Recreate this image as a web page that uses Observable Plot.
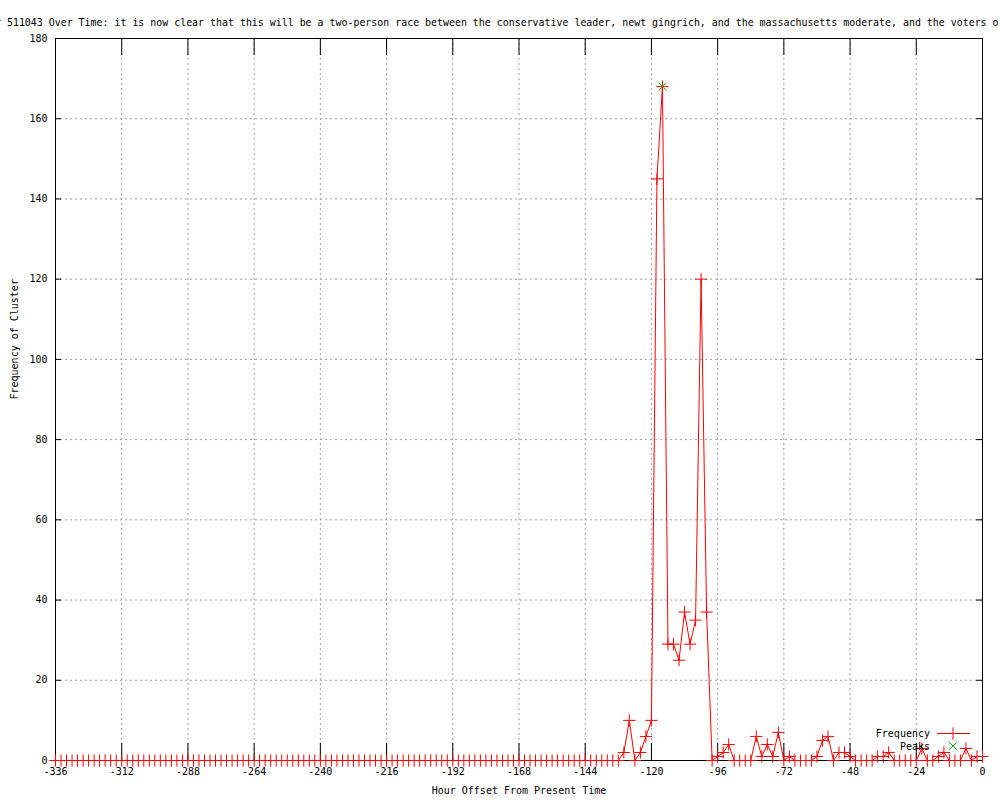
<!DOCTYPE html>
<html><head><meta charset="utf-8">
<script src="https://cdn.jsdelivr.net/npm/d3@7"></script>
<script src="https://cdn.jsdelivr.net/npm/@observablehq/plot@0.6"></script>
<style>
body{margin:0;background:#fff;}
#chart{width:1000px;height:800px;overflow:hidden;position:relative;background:#fff;}
</style></head><body><div id="chart"></div>
<script>
const title = "Frequency of Cluster 511043 Over Time: it is now clear that this will be a two-person race between the conservative leader, newt gingrich, and the massachusetts moderate, and the voters o";
const xLabel = "Hour Offset From Present Time";
const yLabel = "Frequency of Cluster";
const legendLabels = ["Frequency", "Peaks"];
const hourStart = -336, hourStep = 2;
// frequency at hours -336, -334, ..., 0
const frequency = [
  0,0,0,0,0,0,0,0,0,0, 0,0,0,0,0,0,0,0,0,0,
  0,0,0,0,0,0,0,0,0,0, 0,0,0,0,0,0,0,0,0,0,
  0,0,0,0,0,0,0,0,0,0, 0,0,0,0,0,0,0,0,0,0,
  0,0,0,0,0,0,0,0,0,0, 0,0,0,0,0,0,0,0,0,0,
  0,0,0,0,0,0,0,0,0,0, 0,0,0,0,0,0,0,0,0,0,
  0,0,0,
  2,10,0,2,6,10,145,168,29,29,25,37,29,35,120,37,0,
  1,2,4,0,0,0,0,6,1,4,1,7,0,1,0,0,0,0,1,5,6,0,2,2,1,
  0,0,0,0,1,1,2,0,0,0,0,0,3,0,0,1,2,0,0,0,3,0,1,1
];
const peakHours = [-116];
const peakValues = [168];
const xTicks = [-336,-312,-288,-264,-240,-216,-192,-168,-144,-120,-96,-72,-48,-24,0];
const yTicks = [0,20,40,60,80,100,120,140,160,180];

const data = frequency.map((f, i) => ({hour: hourStart + i * hourStep, freq: f}));
const peaks = peakHours.map((h, i) => ({hour: h, freq: peakValues[i]}));

const W = 1000, H = 800, mL = 55, mR = 18, mT = 38, mB = 40;
const innerW = W - mL - mR, innerH = H - mT - mB;
const font = "'DejaVu Sans Mono', monospace";

function legend(index, scales, values, dims) {
  const g = d3.create("svg:g").attr("font-family", font).attr("font-size", 10);
  const xr = dims.width - dims.marginRight, yb = dims.height - dims.marginBottom;
  const colors = ["#ff0000", "#00c000"];
  legendLabels.forEach((lab, i) => {
    const y = yb - 27 + i * 13;
    g.append("text").attr("x", xr - 52).attr("y", y).attr("text-anchor", "end")
      .attr("dy", "0.35em").attr("fill", "#000").text(lab);
    if (i === 0) {
      g.append("line").attr("x1", xr - 45).attr("x2", xr - 12).attr("y1", y + 0.5).attr("y2", y + 0.5)
        .attr("stroke", colors[0]).attr("stroke-width", 1);
      g.append("path").attr("transform", `translate(${xr - 29},${y + 0.5})`)
        .attr("d", d3.symbol(d3.symbolPlus, Math.PI * 16)()).attr("fill", "none").attr("stroke", colors[0]);
    } else {
      g.append("path").attr("transform", `translate(${xr - 29},${y})`)
        .attr("d", d3.symbol(d3.symbolTimes, Math.PI * 12.25)()).attr("fill", "none").attr("stroke", colors[1]);
    }
  });
  return g.node();
}

const chart = Plot.plot({
  width: W, height: H,
  marginLeft: mL, marginRight: mR, marginTop: mT, marginBottom: mB,
  style: {fontFamily: font, fontSize: "10px", color: "#000", background: "#fff", overflow: "hidden"},
  x: {domain: [-336, 0], axis: null, label: null},
  y: {domain: [0, 180], axis: null, label: null},
  marks: [
    Plot.gridX(xTicks, {stroke: "#a0a0a0", strokeOpacity: 1, strokeDasharray: "2,3"}),
    Plot.gridY(yTicks, {stroke: "#a0a0a0", strokeOpacity: 1, strokeDasharray: "2,3"}),
    Plot.tickX(xTicks, {x: d => d, stroke: "#000", insetTop: innerH - 17}),
    Plot.tickX(xTicks, {x: d => d, stroke: "#000", insetBottom: innerH - 17}),
    Plot.tickY(yTicks, {y: d => d, stroke: "#000", insetRight: innerW - 6}),
    Plot.tickY(yTicks, {y: d => d, stroke: "#000", insetLeft: innerW - 6}),
    Plot.line(data, {x: "hour", y: "freq", stroke: "#ff0000", strokeWidth: 1}),
    Plot.frame({stroke: "#000"}),
    Plot.dot(data, {x: "hour", y: "freq", symbol: "plus", r: 4, stroke: "#ff0000", fill: "none", strokeWidth: 1}),
    Plot.dot(peaks, {x: "hour", y: "freq", symbol: "times", r: 3.5, stroke: "#00c000", fill: "none", strokeWidth: 1}),
    Plot.axisX({ticks: xTicks, anchor: "bottom", tickSize: 0, tickPadding: 7, tickFormat: d => String(d), fill: "#000", label: null}),
    Plot.axisY({ticks: yTicks, anchor: "left", tickSize: 0, tickPadding: 8, tickFormat: d => String(d), fill: "#000", label: null}),
    Plot.text([xLabel], {text: d => d, frameAnchor: "bottom", dy: 33, fill: "#000"}),
    Plot.text([yLabel], {text: d => d, frameAnchor: "left", dx: -41, rotate: -90, fill: "#000"}),
    Plot.text([title], {text: d => d, frameAnchor: "top-left", textAnchor: "start", dx: -174, dy: -20, fill: "#000", fontSize: 9.93}),
    legend
  ]
});
document.getElementById("chart").appendChild(chart);
</script>
</body></html>
